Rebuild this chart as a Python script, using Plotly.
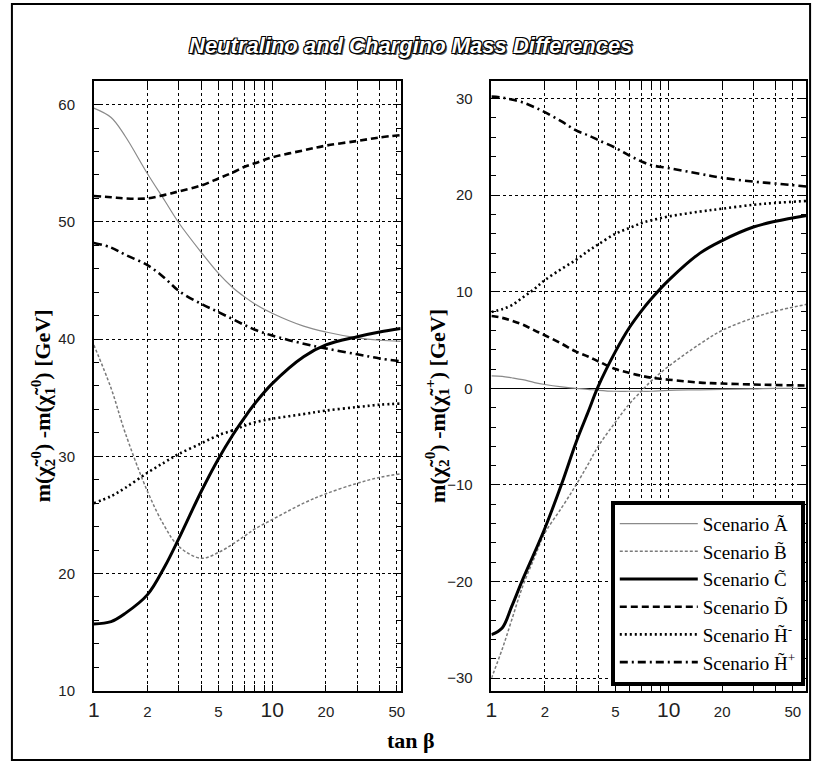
import plotly.graph_objects as go
import math

# ---------------- data ----------------
left_x = [1, 1.25, 1.5, 2, 2.5, 3, 4, 5, 6, 7, 8, 10, 15, 20, 30, 40, 52.5]
A_L = [59.7, 58.9, 57.3, 54.1, 51.8, 49.9, 47.4, 45.6, 44.4, 43.6, 43.0, 42.2, 41.1, 40.6, 40.1, 39.9, 39.8]
B_L = [39.5, 35.8, 32.0, 27.0, 24.0, 22.3, 21.3, 21.8, 22.5, 23.2, 23.8, 24.6, 26.0, 26.8, 27.7, 28.2, 28.5]
C_L = [15.7, 15.9, 16.6, 18.2, 20.6, 23.0, 27.0, 29.8, 31.8, 33.3, 34.5, 36.2, 38.5, 39.5, 40.2, 40.6, 40.9]
D_L = [52.2, 52.1, 52.0, 52.0, 52.3, 52.6, 53.1, 53.7, 54.2, 54.7, 55.0, 55.5, 56.1, 56.5, 56.9, 57.2, 57.4]
Hm_L = [26.0, 26.6, 27.3, 28.6, 29.5, 30.2, 31.1, 31.8, 32.2, 32.6, 32.9, 33.2, 33.6, 33.9, 34.2, 34.4, 34.5]
Hp_L = [48.2, 47.8, 47.2, 46.3, 45.2, 44.1, 43.0, 42.3, 41.7, 41.2, 40.8, 40.3, 39.6, 39.2, 38.7, 38.35, 38.1]

right_x = [1, 1.15, 1.3, 1.5, 1.75, 2, 2.5, 3, 3.5, 4, 5, 6, 7, 8, 10, 15, 20, 30, 40, 60]
A_R = [1.3, 1.25, 1.1, 0.9, 0.6, 0.4, 0.15, 0.0, -0.1, -0.2, -0.3, -0.3, -0.3, -0.3, -0.2, -0.15, -0.1, -0.05, 0.0, 0.0]
B_R = [-30.0, -27.0, -24.0, -20.5, -17.5, -15.0, -12.3, -10.0, -7.9, -6.0, -3.5, -1.6, -0.3, 0.8, 2.3, 4.6, 6.0, 7.3, 8.0, 8.7]
C_R = [-25.5, -24.8, -22.6, -19.8, -17.0, -14.5, -9.8, -5.6, -2.5, 0.2, 3.8, 6.3, 8.0, 9.3, 11.2, 14.0, 15.3, 16.7, 17.3, 17.9]
D_R = [7.5, 7.3, 7.0, 6.6, 6.0, 5.5, 4.6, 3.8, 3.3, 2.8, 2.0, 1.6, 1.3, 1.1, 0.9, 0.6, 0.5, 0.4, 0.35, 0.3]
Hm_R = [7.9, 8.2, 8.6, 9.4, 10.3, 11.2, 12.4, 13.3, 14.2, 14.9, 16.0, 16.6, 17.1, 17.4, 17.8, 18.3, 18.6, 19.0, 19.2, 19.4]
Hp_R = [30.2, 30.1, 29.9, 29.6, 29.1, 28.6, 27.6, 26.7, 26.2, 25.7, 24.9, 24.1, 23.5, 23.1, 22.8, 22.2, 21.8, 21.4, 21.2, 20.9]

names = ["Scenario A\u0303", "Scenario B\u0303", "Scenario C\u0303", "Scenario D\u0303",
         "Scenario H\u0303<sup>-</sup>", "Scenario H\u0303<sup>+</sup>"]

x_grid = [1, 2, 3, 4, 5, 6, 7, 8, 9, 10, 20, 30, 40, 50]
big = "<span style='font-size:21px'>%s</span>"
x_text = [big % "1", "2", "", "", "5", "", "", "", "", big % "10", "20", "", "", "50"]

styles = [
    dict(color="#8a8a8a", width=1.2, dash="solid"),
    dict(color="#7a7a7a", width=1.5, dash="3px,2px"),
    dict(color="black", width=3, dash="solid"),
    dict(color="black", width=2.6, dash="7px,4px"),
    dict(color="black", width=2.6, dash="2px,3px"),
    dict(color="black", width=2.6, dash="8px,4px,2px,4px"),
]

fig = go.Figure()
left_series = [A_L, B_L, C_L, D_L, Hm_L, Hp_L]
right_series = [A_R, B_R, C_R, D_R, Hm_R, Hp_R]
for i, ys in enumerate(left_series):
    fig.add_trace(go.Scatter(x=left_x, y=ys, mode="lines", line=dict(shape="spline", **styles[i]),
                             showlegend=False, xaxis="x", yaxis="y", hoverinfo="skip"))
for i, ys in enumerate(right_series):
    fig.add_trace(go.Scatter(x=right_x, y=ys, mode="lines", line=dict(shape="spline", **styles[i]),
                             name=names[i], legendgroup=str(i), showlegend=True,
                             xaxis="x2", yaxis="y2", hoverinfo="skip"))

W, H = 821, 772
def px(xp):
    return xp / W
def py(yp):
    return 1 - yp / H

tickfont = dict(family="Liberation Sans, Arial, sans-serif", size=15, color="#222")
xcommon = dict(type="log", tickvals=x_grid, ticktext=x_text, showgrid=True, gridcolor="black",
               griddash="dot", gridwidth=1, ticks="inside", ticklen=6, tickcolor="black",
               showline=True, linecolor="black", linewidth=1.5, mirror="ticks",
               tickfont=tickfont, ticklabelstandoff=6, zeroline=False)
ycommon = dict(showgrid=True, gridcolor="black", griddash="dot", gridwidth=1, ticks="inside",
               ticklen=8, tickcolor="black", showline=True, linecolor="black", linewidth=1.5,
               mirror="ticks", tickfont=tickfont, ticklabelstandoff=14,
               minor=dict(dtick=2, ticks="inside", ticklen=5, tickcolor="black", showgrid=False))

fig.update_layout(
    width=W, height=H,
    margin=dict(l=0, r=0, t=0, b=0),
    paper_bgcolor="white", plot_bgcolor="white",
    xaxis=dict(domain=[px(89), px(400)], range=[0, math.log10(52.5)], anchor="y", **xcommon),
    yaxis=dict(domain=[py(698), py(82)], range=[10, 62], tick0=0, dtick=10, anchor="x",
               zeroline=False, **ycommon),
    xaxis2=dict(domain=[px(492), px(811)], range=[0, math.log10(59.5)], anchor="y2", **xcommon),
    yaxis2=dict(domain=[py(698), py(82)], range=[-31.3, 31.8], tick0=0, dtick=10, anchor="x2",
                zeroline=True, zerolinecolor="black", zerolinewidth=1, **ycommon),
    legend=dict(x=px(613), y=py(506), xanchor="left", yanchor="top",
                bgcolor="white", bordercolor="black", borderwidth=4,
                font=dict(family="Liberation Serif, Times New Roman, serif", size=19, color="black"),
                itemwidth=78, tracegroupgap=0, traceorder="grouped",
                entrywidth=194, entrywidthmode="pixels"),
    showlegend=True,
)

title_font_shadow = "1px 1px 0 #000, -1px -1px 0 #000, 1px -1px 0 #000, -1px 1px 0 #000, 2px 2px 0 #555"
serif_bold = dict(family="Liberation Serif, Times New Roman, serif", size=22, color="black", weight="bold")

fig.add_annotation(x=px(410), y=py(46), xref="paper", yref="paper", showarrow=False,
                   xanchor="center", yanchor="middle",
                   text="Neutralino and Chargino Mass Differences",
                   font=dict(family="Liberation Sans, Arial, sans-serif", size=22,
                             color="white", weight="bold", style="italic", shadow=title_font_shadow))
fig.add_annotation(x=px(37), y=py(410), xref="paper", yref="paper", showarrow=False, textangle=-90,
                   xanchor="center", yanchor="middle",
                   text="m(\u03c7\u0303<sub>2</sub><sup>0</sup>) -m(\u03c7\u0303<sub>1</sub><sup>0</sup>) [GeV]",
                   font=serif_bold)
fig.add_annotation(x=px(437), y=py(410), xref="paper", yref="paper", showarrow=False, textangle=-90,
                   xanchor="center", yanchor="middle",
                   text="m(\u03c7\u0303<sub>2</sub><sup>0</sup>) -m(\u03c7\u0303<sub>1</sub><sup>+</sup>) [GeV]",
                   font=serif_bold)
fig.add_annotation(x=px(410), y=py(748), xref="paper", yref="paper", showarrow=False,
                   xanchor="center", yanchor="middle",
                   text="tan \u03b2", font=serif_bold)

# outer frame
fig.add_shape(type="rect", xref="paper", yref="paper", x0=px(6), x1=px(815), y0=py(768), y1=py(4),
              line=dict(color="black", width=2), layer="below")

fig.write_html("out.html")
